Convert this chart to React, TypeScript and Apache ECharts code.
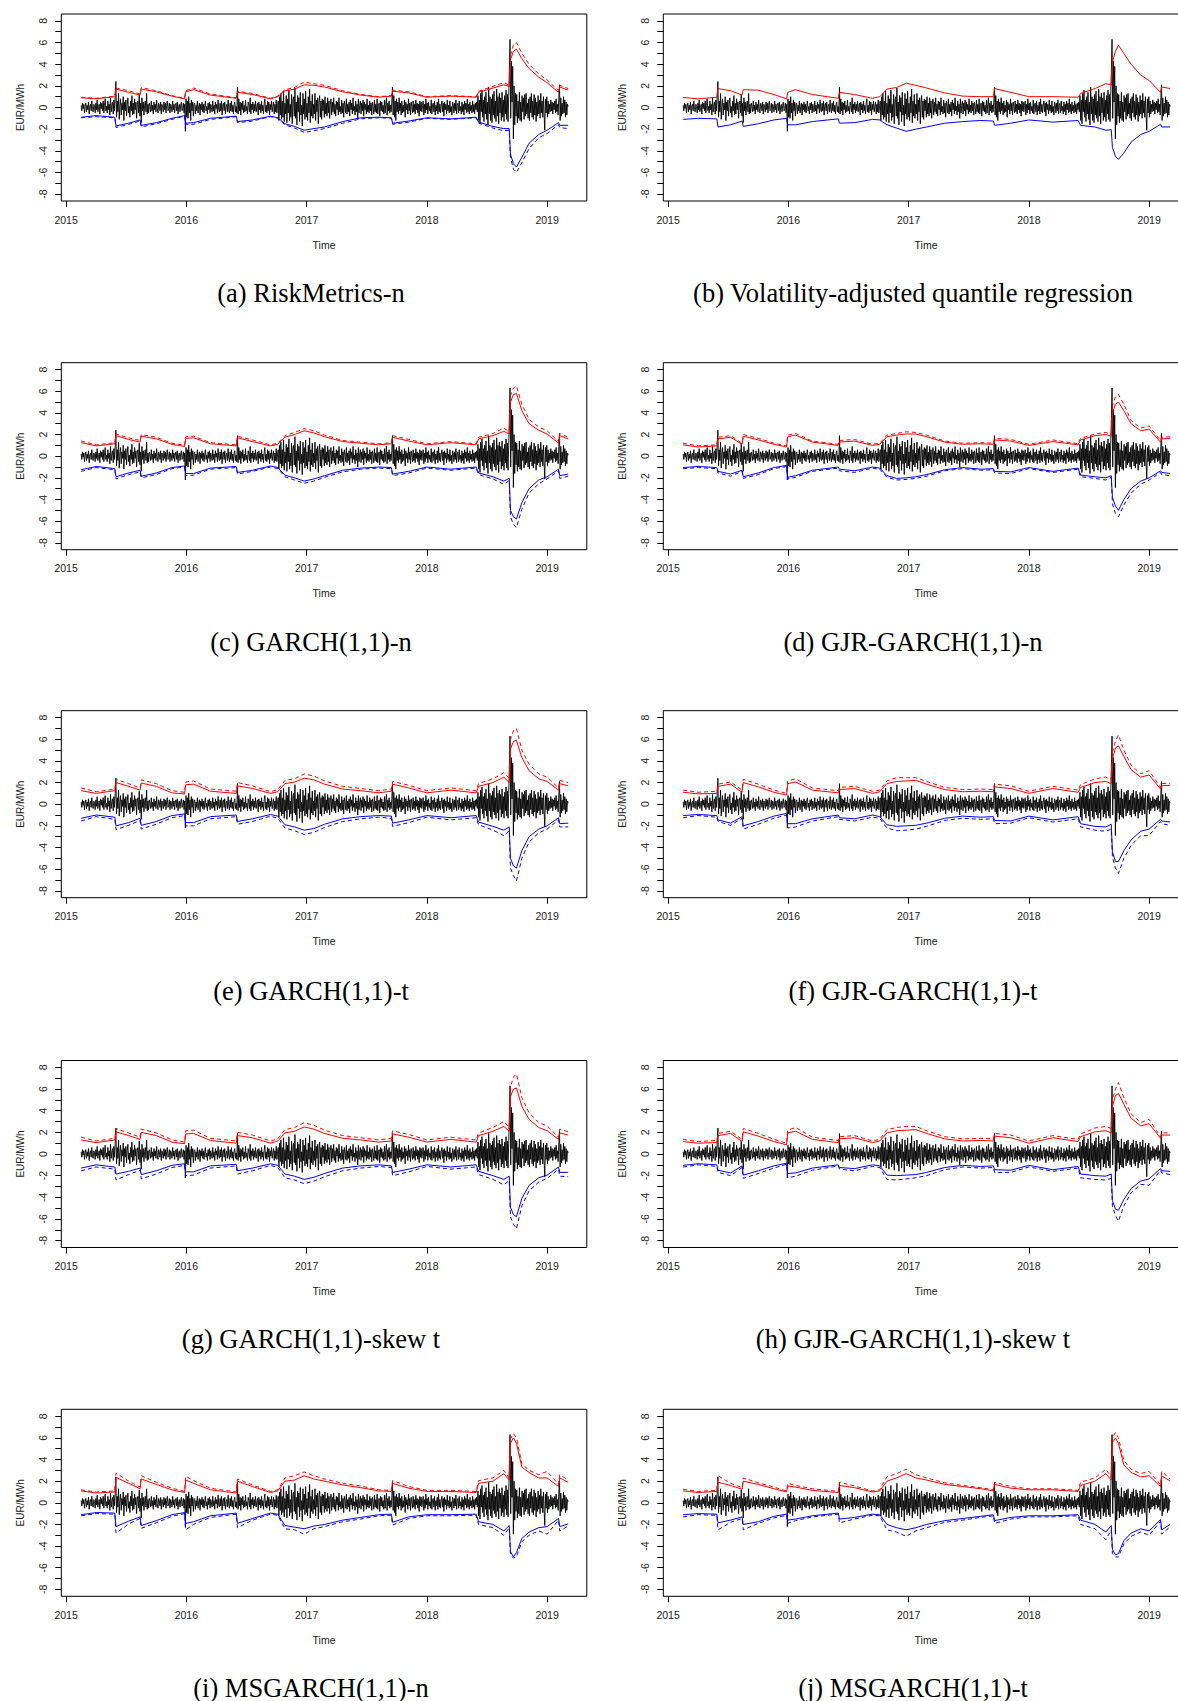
import React, { useEffect, useRef } from "react";
import * as echarts from "echarts";

// ---- series (EUR/MWh), first observation at T0, one point every DT years ----
const T0 = 2015.125;
const DT = 1 / 180;
const RETURNS = [
  0.2, -0.3, 0.4, -0.1, 0.3, -0.5, 0.1, 0.4, -0.4, 0.2,
  -0.2, 0.5, -0.6, 0.1, 0.3, -0.3, 0.6, -0.2, -0.4, 0.3,
  0.1, -0.5, 0.4, -0.2, 0.7, -0.4, 0.0, 0.3, -0.6, 0.5,
  -0.1, 0.4, -0.3, 0.6, -0.5, 0.2, 0.8, -0.3, 0.1, -0.5,
  0.6, -0.2, 0.3, -0.7, 0.9, -0.4, 0.2, 0.5, -0.6, 0.7,
  -0.3, 1.0, 2.4, -0.9, 0.6, -0.4, 1.3, -1.1, 0.2, 0.8,
  -0.7, 0.4, -0.2, 1.0, -1.2, 0.5, -0.3, 0.7, -0.8, 0.3,
  0.9, -0.5, 0.1, -0.9, 0.6, -0.3, 1.1, -0.7, 0.4, -0.6,
  0.8, -0.2, 0.5, -1.0, 0.3, 0.6, -0.5, 1.2, -0.8, 0.4,
  -1.4, 0.9, -0.3, 0.5, -0.7, 0.2, 0.6, -0.4, 1.3, -0.6,
  0.3, -0.5, 0.4, 0.1, -0.4, 0.6, -0.3, 0.2, -0.6, 0.5,
  -0.2, 0.3, -0.4, 0.7, -0.1, -0.5, 0.4, 0.2, -0.3, 0.5,
  -0.6, 0.3, 0.0, -0.4, 0.5, -0.2, 0.4, -0.5, 0.2, 0.6,
  -0.3, -0.1, 0.4, -0.5, 0.3, 0.1, -0.4, 0.6, -0.2, 0.3,
  -0.5, 0.2, 0.4, -0.3, 0.5, -0.6, 0.1, 0.3, -0.4, 0.2,
  0.5, -0.3, -0.1, 0.4, -0.5, 0.3, -2.2, 0.8, -0.9, 0.6,
  -1.0, 1.0, -0.5, 0.4, -1.2, 0.7, -0.3, 0.5, -0.8, 0.3,
  0.4, -0.6, 0.2, -0.3, 0.6, -0.5, 0.1, 0.4, -0.7, 0.3,
  -0.2, 0.5, -0.4, 0.3, -0.5, 0.2, 0.6, -0.3, 0.1, -0.6,
  0.4, -0.2, 0.5, -0.5, 0.3, 0.0, -0.4, 0.6, -0.3, 0.2,
  -0.6, 0.5, -0.1, 0.3, -0.5, 0.7, -0.2, -0.4, 0.4, -0.3,
  0.6, -0.7, 0.2, 0.4, -0.3, 0.5, -0.6, 0.1, 0.3, -0.4,
  0.7, -0.2, -0.5, 0.4, -0.3, 0.6, -0.4, 0.2, -0.6, 0.3,
  0.5, -0.4, 0.1, -0.5, 1.9, -0.6, 0.8, -0.3, 0.5, -0.7,
  0.4, -0.2, 0.6, -0.5, 0.2, -0.4, 0.7, -0.3, 0.1, -0.6,
  0.5, 0.2, -0.4, 0.9, -0.6, 0.3, -0.2, 0.5, -0.5, 0.3,
  -0.3, 0.6, -0.4, 0.1, 0.4, -0.7, 0.5, -0.2, 0.3, -0.5,
  0.6, -0.3, 0.2, -0.6, 0.4, 0.8, -0.4, 0.2, -0.5, 0.6,
  -0.3, 0.5, -0.7, 0.3, -0.2, 0.6, -0.4, 0.1, 0.5, -0.6,
  0.3, -0.4, 0.7, -0.5, 0.2, 0.6, -1.2, 1.0, -0.7, 1.3,
  -1.1, 0.6, -0.9, 1.5, -1.3, 0.4, -0.6, 1.1, -1.4, 0.8,
  -0.5, 1.6, -1.2, 0.3, -0.9, 1.2, -1.5, 0.7, 1.0, -0.8,
  1.8, -1.0, 0.5, -1.6, 1.1, -0.4, 0.9, -1.3, 1.4, -0.7,
  0.2, -1.7, 1.3, -0.6, 0.8, -1.1, 1.5, -0.9, 0.4, -1.2,
  1.0, -0.5, 1.7, -1.4, 0.6, -0.8, 1.2, -1.0, 0.3, -0.6,
  1.3, -1.2, 0.7, -0.4, 0.9, -1.5, 0.5, 1.1, -0.9, 0.6,
  -1.1, 0.8, -0.3, 0.7, -0.9, 1.0, -0.6, 0.4, -0.8, 0.9,
  -0.5, 0.6, -1.0, 0.3, 0.8, -0.7, 0.5, -0.4, 0.9, -0.6,
  0.3, -0.8, 0.6, -0.2, 0.5, -0.7, 0.9, -0.4, 0.1, -0.6,
  0.7, -0.5, 0.4, -0.9, 0.6, 0.2, -0.5, 0.8, -0.6, 0.3,
  -0.4, 0.5, -0.8, 0.7, -0.2, 0.4, -0.6, 0.9, -0.3, 0.1,
  -0.7, 0.6, -0.4, 0.3, -1.0, 0.8, -0.5, 0.2, 0.6, -0.6,
  0.4, -0.3, 0.7, -0.8, 0.5, -0.2, 0.3, -0.6, 0.8, -0.4,
  0.2, -0.5, 0.6, -0.3, 0.4, -0.7, 0.5, 0.1, -0.6, 0.7,
  -0.4, 0.3, -0.5, 0.8, -0.6, 0.2, 0.4, -0.8, 0.6, -0.3,
  0.5, -0.4, 0.2, -0.6, 0.7, -0.5, 0.3, 0.9, -0.7, 0.4,
  -0.3, 0.6, -0.5, 0.2, -0.4, 0.5, 1.9, -0.7, 1.1, -0.9,
  0.6, -1.2, 0.8, -0.4, 0.5, -0.6, 0.9, -0.3, 0.4, -0.7,
  0.6, -0.5, 0.2, -0.4, 0.7, -0.9, 0.5, -0.2, 0.3, -0.6,
  0.8, -0.3, 0.4, -0.7, 0.5, 0.1, -0.5, 0.6, -0.4, 0.3,
  -0.6, 0.7, -0.2, 0.4, -0.5, 0.3, -0.8, 0.6, -0.3, 0.5,
  -0.4, 0.2, 0.6, -0.7, 0.3, -0.5, 0.8, -0.2, 0.4, -0.6,
  0.5, -0.3, 0.1, -0.5, 0.7, -0.6, 0.3, 0.4, -0.4, 0.6,
  -0.7, 0.2, -0.3, 0.5, -0.6, 0.8, -0.4, 0.3, -0.5, 0.2,
  0.6, -0.4, 0.4, -0.8, 0.5, -0.2, 0.3, -0.6, 0.7, -0.3,
  0.2, -0.5, 0.6, -0.4, 0.1, -0.7, 0.5, 0.3, -0.5, 0.4,
  -0.3, 0.7, -0.6, 0.2, 0.4, -0.5, 0.6, -0.3, 0.1, -0.6,
  0.5, -0.4, 0.3, -0.7, 0.6, -0.2, 0.4, -0.5, 0.8, -0.4,
  0.3, -0.6, 0.5, -0.3, 0.2, -0.5, 0.6, -0.4, 0.3, -0.6,
  0.4, -0.2, 0.5, -0.4, 1.1, -1.2, 0.7, -1.5, 1.3, -0.4,
  1.6, -0.9, 0.7, -1.3, 1.0, -0.6, 1.4, -1.1, 0.5, -1.6,
  1.9, -0.6, 1.0, -1.2, 0.8, -1.4, 1.2, -0.7, 1.5, -1.0,
  0.6, -1.3, 1.7, -0.8, 1.0, -1.5, 1.3, -0.5, 0.9, -1.2,
  1.4, -0.9, 0.7, -1.3, 1.1, -0.6, 1.6, -1.1, 1.2, -1.3,
  1.0, 3.4, 6.3, -1.0, 4.3, 0.5, 3.8, -2.9, 2.0, -1.6,
  1.3, -0.8, 1.2, -1.4, 0.6, -1.0, 1.4, -1.2, 0.5, -1.3,
  1.1, -0.4, 0.9, -1.1, 1.2, -0.8, 1.3, -0.6, 0.4, -1.0,
  0.8, -1.2, 1.0, -0.5, 1.3, -0.9, 0.6, -1.1, 1.2, -0.7,
  0.9, -1.3, 0.5, -0.8, 1.1, -0.6, 0.7, -1.0, 1.3, -0.5,
  0.6, -0.9, 1.0, -0.7, -2.1, 0.8, -0.5, 1.0, -0.9, 0.6,
  -0.6, 0.3, -0.4, 0.7, -0.3, 0.5, -0.6, 0.4, -0.2, 0.6,
  -0.5, 0.8, -0.4, 0.3, -0.7, 0.9, 2.1, -1.2, 0.9, -0.8,
  0.4, -0.6, 1.0, -0.5, 0.7, -0.9, 0.5, -0.7, 0.3, 0.1,
];

// ---- times at which the VaR bands were read ----
const KNOTS = [
  2015.125, 2015.25, 2015.405, 2015.415, 2015.52, 2015.615, 2015.625, 2015.75, 2015.88, 2015.985,
  2015.995, 2016.06, 2016.2, 2016.415, 2016.425, 2016.55, 2016.7, 2016.76, 2016.82, 2016.9,
  2016.98, 2017.06, 2017.15, 2017.3, 2017.45, 2017.6, 2017.705, 2017.715, 2017.85, 2018.0,
  2018.2, 2018.41, 2018.43, 2018.55, 2018.64, 2018.685, 2018.695, 2018.72, 2018.745, 2018.79,
  2018.85, 2018.93, 2019.0, 2019.095, 2019.105, 2019.175,
];

// (a) RiskMetrics-n
const UP_A = [0.9, 0.8, 1.0, 1.7, 1.4, 1.15, 1.7, 1.45, 1.05, 0.8, 1.45, 1.65, 1.15, 0.85, 1.4, 1.2, 0.8, 1.0, 1.55, 1.7, 2.1, 2.05, 1.9, 1.45, 1.15, 0.95, 1.05, 1.5, 1.35, 0.95, 1.05, 0.95, 1.4, 1.8, 2.1, 1.95, 4.4, 5.2, 5.4, 4.5, 3.6, 2.8, 2.3, 1.4, 1.9, 1.6];
const UP2_A = [0.95, 0.85, 1.05, 1.8, 1.55, 1.25, 1.85, 1.55, 1.1, 0.85, 1.55, 1.8, 1.25, 0.9, 1.5, 1.3, 0.85, 1.05, 1.65, 1.85, 2.35, 2.2, 2.05, 1.55, 1.2, 1.0, 1.1, 1.6, 1.45, 1.0, 1.1, 1.0, 1.5, 1.95, 2.3, 2.05, 4.8, 5.8, 6.0, 5.0, 4.0, 3.1, 2.55, 1.55, 2.05, 1.75];
const LO_A = [-0.9, -0.75, -0.9, -1.7, -1.45, -1.15, -1.65, -1.4, -1.0, -0.75, -1.45, -1.4, -1.0, -0.8, -1.3, -1.15, -0.8, -0.95, -1.5, -1.75, -2.1, -1.95, -1.8, -1.3, -0.95, -0.9, -0.95, -1.45, -1.25, -0.95, -1.05, -0.9, -1.35, -1.75, -1.95, -1.95, -4.3, -5.2, -5.5, -4.6, -3.3, -2.5, -2.1, -1.4, -1.65, -1.65];
const LO2_A = [-0.95, -0.85, -0.95, -1.85, -1.55, -1.25, -1.8, -1.5, -1.1, -0.8, -1.55, -1.55, -1.1, -0.85, -1.4, -1.25, -0.85, -1.0, -1.6, -1.9, -2.3, -2.15, -1.95, -1.45, -1.05, -0.95, -1.0, -1.55, -1.35, -1.0, -1.1, -0.95, -1.45, -1.9, -2.15, -2.1, -4.6, -5.7, -6.0, -5.1, -3.8, -2.8, -2.4, -1.6, -1.85, -1.95];
// (b) Volatility-adjusted quantile regression
const UP_B = [0.92, 0.8, 0.95, 1.75, 1.55, 1.15, 1.65, 1.6, 1.2, 0.8, 1.4, 1.65, 1.2, 0.85, 1.4, 1.2, 0.85, 1.0, 1.7, 1.85, 2.25, 2.05, 1.8, 1.35, 1.05, 1.0, 1.0, 1.75, 1.4, 1.0, 1.0, 0.95, 1.3, 1.75, 2.2, 2.1, 4.2, 5.2, 5.75, 5.0, 4.0, 3.0, 2.5, 1.4, 1.9, 1.75];
const LO_B = [-1.1, -1.0, -1.05, -1.8, -1.6, -1.25, -1.75, -1.5, -1.15, -1.0, -1.6, -1.6, -1.3, -1.05, -1.45, -1.4, -1.1, -1.15, -1.6, -1.9, -2.2, -2.0, -1.8, -1.45, -1.3, -1.2, -1.25, -1.65, -1.45, -1.15, -1.35, -1.2, -1.65, -1.8, -2.1, -2.05, -3.7, -4.5, -4.8, -4.2, -3.2, -2.5, -2.2, -1.55, -1.8, -1.8];
// (c) GARCH(1,1)-n
const UP_C = [1.25, 0.95, 1.15, 1.9, 1.55, 1.3, 1.85, 1.6, 1.1, 0.9, 1.65, 1.7, 1.15, 0.95, 1.7, 1.35, 0.95, 1.1, 1.75, 2.0, 2.35, 2.15, 1.8, 1.35, 1.2, 1.05, 1.15, 1.75, 1.4, 1.05, 1.25, 1.05, 1.6, 1.9, 2.3, 2.05, 5.0, 5.7, 5.8, 4.2, 3.0, 2.4, 2.05, 1.2, 1.9, 1.6];
const UP2_C = [1.4, 1.05, 1.25, 2.05, 1.7, 1.45, 2.0, 1.75, 1.2, 1.0, 1.8, 1.85, 1.25, 1.05, 1.85, 1.5, 1.05, 1.2, 1.9, 2.2, 2.55, 2.35, 1.95, 1.45, 1.3, 1.15, 1.25, 1.9, 1.55, 1.15, 1.35, 1.15, 1.75, 2.1, 2.6, 2.25, 5.6, 6.3, 6.5, 4.8, 3.4, 2.7, 2.35, 1.35, 2.1, 1.75];
const LO_C = [-1.25, -0.95, -1.15, -1.9, -1.55, -1.3, -1.85, -1.55, -1.05, -0.9, -1.6, -1.6, -1.1, -0.95, -1.5, -1.3, -0.9, -1.05, -1.75, -2.0, -2.3, -2.1, -1.8, -1.3, -1.1, -1.0, -1.05, -1.65, -1.4, -1.0, -1.2, -1.0, -1.55, -1.9, -2.3, -2.05, -5.0, -5.6, -5.8, -4.3, -3.0, -2.2, -1.9, -1.2, -1.8, -1.65];
const LO2_C = [-1.4, -1.05, -1.25, -2.1, -1.7, -1.45, -2.0, -1.7, -1.15, -1.0, -1.8, -1.75, -1.2, -1.05, -1.65, -1.4, -1.0, -1.15, -1.9, -2.2, -2.5, -2.3, -1.95, -1.45, -1.2, -1.1, -1.15, -1.8, -1.55, -1.1, -1.3, -1.1, -1.7, -2.1, -2.6, -2.25, -5.6, -6.3, -6.6, -4.9, -3.4, -2.55, -2.1, -1.35, -2.05, -1.85];
// (d) GJR-GARCH(1,1)-n
const UP_D = [1.05, 0.85, 0.95, 1.6, 1.75, 1.1, 1.85, 1.5, 1.1, 0.85, 1.8, 1.95, 1.3, 1.0, 1.3, 1.4, 1.0, 1.1, 1.8, 1.95, 2.05, 2.05, 1.8, 1.3, 1.1, 1.15, 1.1, 1.5, 1.4, 1.0, 1.35, 1.05, 1.5, 1.9, 2.0, 1.85, 4.0, 4.8, 5.0, 4.2, 3.0, 2.35, 2.5, 1.3, 1.6, 1.65];
const UP2_D = [1.2, 0.95, 1.05, 1.75, 1.9, 1.2, 2.0, 1.65, 1.2, 0.95, 1.95, 2.1, 1.4, 1.1, 1.45, 1.55, 1.1, 1.2, 1.95, 2.1, 2.25, 2.2, 1.95, 1.4, 1.2, 1.25, 1.2, 1.65, 1.55, 1.1, 1.5, 1.15, 1.65, 2.05, 2.2, 2.0, 4.6, 5.5, 5.7, 4.8, 3.3, 2.6, 2.8, 1.45, 1.75, 1.8];
const LO_D = [-1.05, -0.95, -1.05, -1.4, -1.65, -1.3, -1.9, -1.55, -1.05, -0.85, -1.95, -1.8, -1.3, -1.0, -1.2, -1.35, -1.0, -1.1, -1.8, -2.05, -2.0, -1.9, -1.7, -1.25, -1.05, -1.2, -1.15, -1.4, -1.45, -1.05, -1.4, -1.1, -1.75, -1.9, -2.0, -1.8, -3.8, -4.6, -5.0, -4.0, -3.0, -2.3, -2.0, -1.35, -1.5, -1.6];
const LO2_D = [-1.15, -1.05, -1.15, -1.55, -1.85, -1.4, -2.05, -1.7, -1.15, -0.95, -2.1, -1.95, -1.4, -1.1, -1.35, -1.5, -1.1, -1.2, -1.95, -2.2, -2.15, -2.05, -1.85, -1.35, -1.15, -1.3, -1.25, -1.55, -1.6, -1.15, -1.5, -1.2, -1.9, -2.05, -2.2, -1.95, -4.4, -5.3, -5.6, -4.5, -3.4, -2.6, -2.2, -1.5, -1.7, -1.8];
// (e) GARCH(1,1)-t
const UP_E = [1.25, 1.0, 1.25, 2.0, 1.65, 1.3, 1.95, 1.65, 1.05, 0.95, 1.8, 1.85, 1.2, 1.0, 1.7, 1.45, 1.0, 1.15, 1.9, 2.05, 2.4, 2.25, 1.85, 1.4, 1.25, 1.05, 1.2, 1.85, 1.5, 1.05, 1.3, 1.05, 1.65, 2.0, 2.5, 2.0, 5.1, 5.8, 5.9, 4.3, 3.1, 2.35, 2.1, 1.3, 1.9, 1.7];
const UP2_E = [1.5, 1.15, 1.4, 2.3, 1.9, 1.5, 2.25, 1.9, 1.25, 1.1, 2.05, 2.15, 1.4, 1.2, 2.0, 1.7, 1.15, 1.35, 2.2, 2.35, 2.8, 2.6, 2.15, 1.65, 1.45, 1.25, 1.4, 2.1, 1.75, 1.25, 1.5, 1.25, 1.9, 2.35, 2.9, 2.4, 6.0, 6.8, 7.0, 5.0, 3.7, 2.8, 2.5, 1.5, 2.2, 2.0];
const LO_E = [-1.3, -1.0, -1.2, -2.0, -1.7, -1.3, -1.95, -1.6, -1.05, -0.9, -1.7, -1.7, -1.15, -1.0, -1.6, -1.35, -0.95, -1.1, -1.9, -2.1, -2.4, -2.25, -1.85, -1.35, -1.15, -1.05, -1.1, -1.75, -1.45, -1.05, -1.25, -1.05, -1.65, -2.05, -2.4, -2.1, -5.0, -5.7, -5.9, -4.3, -3.0, -2.3, -2.0, -1.25, -1.8, -1.75];
const LO2_E = [-1.55, -1.15, -1.4, -2.35, -1.95, -1.5, -2.3, -1.85, -1.25, -1.05, -2.0, -2.0, -1.35, -1.15, -1.85, -1.6, -1.1, -1.3, -2.2, -2.45, -2.8, -2.6, -2.15, -1.6, -1.35, -1.2, -1.3, -2.05, -1.7, -1.2, -1.45, -1.25, -1.9, -2.4, -2.9, -2.45, -5.9, -6.6, -7.1, -5.0, -3.5, -2.65, -2.3, -1.45, -2.1, -2.1];
// (f) GJR-GARCH(1,1)-t
const UP_F = [1.1, 0.95, 1.0, 1.65, 1.85, 1.1, 2.0, 1.6, 1.1, 0.85, 1.9, 2.05, 1.3, 1.05, 1.35, 1.45, 1.0, 1.15, 1.9, 2.1, 2.15, 2.2, 1.85, 1.35, 1.15, 1.2, 1.15, 1.6, 1.45, 1.0, 1.45, 1.1, 1.55, 2.0, 2.1, 1.9, 4.2, 5.2, 5.4, 4.4, 3.2, 2.5, 2.7, 1.4, 1.7, 1.75];
const UP2_F = [1.3, 1.1, 1.2, 1.85, 2.05, 1.3, 2.3, 1.85, 1.3, 1.0, 2.15, 2.35, 1.5, 1.25, 1.55, 1.65, 1.2, 1.3, 2.15, 2.45, 2.45, 2.45, 2.1, 1.55, 1.35, 1.4, 1.35, 1.85, 1.7, 1.2, 1.65, 1.3, 1.8, 2.35, 2.5, 2.3, 4.8, 5.8, 6.4, 5.0, 3.6, 2.8, 3.1, 1.55, 1.9, 1.95];
const LO_F = [-1.05, -0.95, -1.05, -1.45, -1.75, -1.15, -2.0, -1.6, -1.1, -0.85, -1.8, -1.8, -1.35, -1.0, -1.25, -1.35, -1.0, -1.15, -1.9, -2.05, -2.0, -1.95, -1.75, -1.3, -1.1, -1.2, -1.15, -1.5, -1.55, -1.1, -1.45, -1.15, -1.8, -2.05, -2.1, -1.85, -4.4, -5.3, -5.3, -4.3, -3.3, -2.5, -2.3, -1.4, -1.55, -1.65];
const LO2_F = [-1.25, -1.05, -1.2, -1.6, -1.95, -1.3, -2.3, -1.85, -1.3, -1.0, -2.2, -2.1, -1.55, -1.15, -1.4, -1.55, -1.2, -1.3, -2.2, -2.45, -2.4, -2.3, -2.05, -1.5, -1.3, -1.4, -1.35, -1.8, -1.75, -1.25, -1.65, -1.35, -2.1, -2.4, -2.5, -2.3, -4.9, -5.9, -6.4, -5.0, -3.8, -2.9, -2.9, -1.6, -1.8, -1.95];
// (g) GARCH(1,1)-skew t
const UP_G = [1.3, 1.05, 1.3, 2.05, 1.7, 1.35, 2.0, 1.7, 1.1, 0.95, 1.85, 1.9, 1.25, 1.0, 1.7, 1.5, 1.0, 1.2, 1.95, 2.1, 2.5, 2.3, 1.9, 1.45, 1.3, 1.1, 1.2, 1.85, 1.55, 1.1, 1.35, 1.1, 1.7, 2.1, 2.55, 2.1, 5.3, 6.0, 6.1, 4.4, 3.2, 2.45, 2.15, 1.35, 1.95, 1.75];
const UP2_G = [1.55, 1.2, 1.45, 2.35, 1.95, 1.55, 2.3, 1.95, 1.3, 1.1, 2.15, 2.2, 1.45, 1.2, 2.0, 1.75, 1.2, 1.4, 2.25, 2.45, 2.9, 2.65, 2.2, 1.7, 1.5, 1.3, 1.45, 2.15, 1.8, 1.3, 1.55, 1.3, 1.95, 2.45, 3.0, 2.45, 6.2, 7.1, 7.4, 5.2, 3.8, 2.9, 2.6, 1.55, 2.3, 2.05];
const LO_G = [-1.3, -1.0, -1.2, -1.85, -1.6, -1.3, -1.9, -1.55, -1.05, -0.9, -1.65, -1.65, -1.1, -0.95, -1.55, -1.3, -0.9, -1.05, -1.85, -2.05, -2.35, -2.15, -1.8, -1.3, -1.1, -1.0, -1.1, -1.7, -1.4, -1.0, -1.2, -1.0, -1.6, -2.0, -2.35, -2.05, -4.9, -5.6, -5.8, -4.1, -2.9, -2.2, -1.95, -1.2, -1.7, -1.7];
const LO2_G = [-1.55, -1.2, -1.4, -2.4, -1.9, -1.5, -2.3, -1.85, -1.25, -1.05, -2.0, -1.95, -1.3, -1.1, -1.85, -1.55, -1.05, -1.25, -2.2, -2.4, -2.75, -2.5, -2.1, -1.55, -1.3, -1.15, -1.25, -2.0, -1.65, -1.15, -1.4, -1.2, -1.9, -2.35, -2.85, -2.45, -5.8, -6.5, -6.9, -4.8, -3.4, -2.6, -2.25, -1.4, -2.05, -2.1];
// (h) GJR-GARCH(1,1)-skew t
const UP_H = [1.15, 1.0, 1.05, 1.7, 1.9, 1.15, 2.05, 1.65, 1.15, 0.85, 1.95, 2.1, 1.35, 1.05, 1.4, 1.5, 1.05, 1.2, 1.95, 2.15, 2.2, 2.25, 1.9, 1.4, 1.2, 1.25, 1.2, 1.65, 1.5, 1.0, 1.5, 1.15, 1.6, 2.05, 2.15, 1.95, 4.4, 5.4, 5.6, 4.6, 3.3, 2.6, 2.8, 1.45, 1.75, 1.75];
const UP2_H = [1.35, 1.15, 1.25, 1.9, 2.1, 1.35, 2.35, 1.9, 1.35, 1.0, 2.2, 2.45, 1.55, 1.25, 1.6, 1.7, 1.2, 1.35, 2.25, 2.45, 2.55, 2.55, 2.15, 1.6, 1.4, 1.45, 1.4, 1.9, 1.75, 1.2, 1.7, 1.35, 1.85, 2.4, 2.55, 2.35, 5.0, 6.0, 6.6, 5.2, 3.7, 2.9, 3.2, 1.6, 1.95, 1.95];
const LO_H = [-1.05, -0.9, -1.0, -1.5, -1.75, -1.1, -1.95, -1.55, -1.1, -0.85, -1.8, -1.75, -1.3, -1.0, -1.25, -1.35, -1.0, -1.1, -1.95, -2.0, -1.95, -1.9, -1.7, -1.25, -1.05, -1.15, -1.1, -1.45, -1.5, -1.05, -1.45, -1.15, -1.85, -2.0, -2.05, -1.85, -4.3, -5.1, -5.2, -4.2, -3.2, -2.5, -2.3, -1.35, -1.55, -1.6];
const LO2_H = [-1.2, -1.0, -1.15, -1.7, -2.0, -1.25, -2.25, -1.8, -1.3, -0.95, -2.2, -2.05, -1.5, -1.1, -1.4, -1.55, -1.15, -1.25, -2.35, -2.4, -2.3, -2.2, -2.0, -1.45, -1.2, -1.3, -1.25, -1.7, -1.7, -1.2, -1.6, -1.3, -2.2, -2.35, -2.4, -2.25, -4.8, -5.7, -6.2, -4.8, -3.6, -2.8, -2.9, -1.5, -1.75, -1.9];
// (i) MSGARCH(1,1)-n
const UP_I = [1.1, 0.9, 1.0, 2.35, 1.8, 1.3, 2.2, 1.7, 1.2, 0.95, 2.1, 1.8, 1.2, 0.9, 2.0, 1.5, 0.95, 1.1, 2.0, 2.1, 2.5, 2.2, 2.0, 1.65, 1.4, 1.1, 1.05, 1.8, 1.35, 1.05, 1.05, 0.95, 1.8, 2.0, 2.7, 2.1, 5.5, 6.0, 5.5, 3.3, 2.8, 2.3, 2.3, 1.5, 2.3, 1.9];
const UP2_I = [1.2, 1.0, 1.1, 2.75, 2.0, 1.45, 2.5, 1.9, 1.35, 1.05, 2.45, 2.05, 1.35, 1.0, 2.2, 1.65, 1.05, 1.2, 2.3, 2.5, 2.85, 2.5, 2.2, 1.8, 1.55, 1.2, 1.15, 2.05, 1.5, 1.15, 1.15, 1.05, 2.05, 2.3, 3.0, 2.3, 5.9, 6.4, 6.0, 3.6, 3.0, 2.6, 2.9, 1.7, 2.6, 2.1];
const LO_I = [-1.1, -0.9, -0.95, -2.2, -1.7, -1.3, -2.1, -1.65, -1.1, -0.9, -1.9, -1.75, -1.2, -0.95, -1.9, -1.45, -0.95, -1.05, -2.1, -2.25, -2.4, -2.15, -2.0, -1.6, -1.35, -1.1, -1.05, -1.8, -1.3, -1.1, -1.1, -1.05, -1.75, -2.0, -2.6, -2.1, -4.5, -5.0, -4.6, -3.3, -2.7, -2.3, -2.2, -1.45, -2.2, -1.95];
const LO2_I = [-1.2, -1.0, -1.05, -2.8, -1.95, -1.45, -2.35, -1.85, -1.25, -1.0, -2.5, -2.0, -1.35, -1.05, -2.3, -1.6, -1.05, -1.15, -2.4, -2.5, -2.9, -2.4, -2.2, -1.75, -1.5, -1.2, -1.15, -2.05, -1.45, -1.2, -1.2, -1.15, -2.0, -2.3, -3.0, -2.3, -4.8, -5.1, -5.0, -3.6, -3.0, -2.6, -2.9, -1.6, -2.6, -2.15];
// (j) MSGARCH(1,1)-t
const UP_J = [1.1, 0.95, 1.05, 1.9, 1.6, 1.25, 2.0, 1.7, 1.3, 1.0, 1.55, 1.45, 1.15, 0.95, 1.6, 1.4, 1.0, 1.1, 2.0, 2.3, 2.7, 2.3, 2.1, 1.7, 1.5, 1.3, 1.1, 1.7, 1.35, 1.2, 1.2, 1.05, 1.6, 2.0, 2.7, 2.1, 5.6, 6.0, 5.5, 3.5, 2.8, 2.4, 2.5, 1.5, 2.5, 2.0];
const UP2_J = [1.25, 1.05, 1.15, 2.5, 1.8, 1.4, 2.3, 1.85, 1.45, 1.1, 1.8, 1.6, 1.3, 1.05, 1.9, 1.55, 1.1, 1.2, 2.4, 2.7, 3.1, 2.6, 2.3, 1.85, 1.6, 1.4, 1.2, 1.9, 1.5, 1.3, 1.3, 1.15, 1.9, 2.3, 3.1, 2.4, 6.0, 6.5, 6.0, 3.9, 3.1, 2.7, 2.9, 1.65, 2.9, 2.2];
const LO_J = [-1.1, -1.0, -1.05, -1.85, -1.6, -1.3, -2.0, -1.75, -1.25, -1.05, -1.6, -1.5, -1.2, -0.95, -1.5, -1.35, -1.05, -1.1, -2.0, -2.3, -2.5, -2.3, -2.0, -1.65, -1.45, -1.25, -1.1, -1.65, -1.35, -1.2, -1.2, -1.1, -1.6, -2.0, -2.7, -2.1, -4.3, -4.8, -4.7, -3.5, -2.8, -2.4, -2.6, -1.55, -2.5, -2.0];
const LO2_J = [-1.3, -1.1, -1.15, -2.5, -1.8, -1.45, -2.5, -1.9, -1.4, -1.15, -1.9, -1.65, -1.3, -1.05, -1.85, -1.5, -1.15, -1.2, -2.5, -2.7, -3.1, -2.6, -2.3, -1.8, -1.6, -1.35, -1.2, -1.9, -1.5, -1.3, -1.3, -1.2, -2.0, -2.4, -3.4, -2.5, -4.7, -5.0, -5.0, -3.8, -3.1, -2.7, -3.0, -1.7, -2.9, -2.2];

const CAPTIONS = [
  "(a) RiskMetrics-n",
  "(b) Volatility-adjusted quantile regression",
  "(c) GARCH(1,1)-n",
  "(d) GJR-GARCH(1,1)-n",
  "(e) GARCH(1,1)-t",
  "(f) GJR-GARCH(1,1)-t",
  "(g) GARCH(1,1)-skew t",
  "(h) GJR-GARCH(1,1)-skew t",
  "(i) MSGARCH(1,1)-n",
  "(j) MSGARCH(1,1)-t",
];
const UPPER = [UP_A, UP_B, UP_C, UP_D, UP_E, UP_F, UP_G, UP_H, UP_I, UP_J];
const UPPER2 = [UP2_A, null, UP2_C, UP2_D, UP2_E, UP2_F, UP2_G, UP2_H, UP2_I, UP2_J];
const LOWER = [LO_A, LO_B, LO_C, LO_D, LO_E, LO_F, LO_G, LO_H, LO_I, LO_J];
const LOWER2 = [LO2_A, null, LO2_C, LO2_D, LO2_E, LO2_F, LO2_G, LO2_H, LO2_I, LO2_J];

// axis ranges (R pads the data range by 4%)
const X_MIN = 2014.96;
const X_MAX = 2019.33;
const X_TICK_MIN = 2015;
const X_TICK_MAX = 2019;
const Y_MIN = -8.64;
const Y_MAX = 8.64;
const Y_TICK_MIN = -8;
const Y_TICK_MAX = 8;

// ---- layout ----
const W = 1178;
const H = 1701;
const GRID_LEFT = [61.3, 663.3];
const GRID_W = 525.5;
const GRID_H = 187;
const ROW_TOP = [14, 362.7, 710.7, 1060.5, 1409.3];
const CAP_X = [311, 913];
const CAP_Y0 = 293;
const ROW_STEP = 348.75;
const SANS = '"Liberation Sans", Arial, sans-serif';
const SERIF = '"Liberation Serif", "Times New Roman", serif';

function buildOption() {
  const grid: any[] = [];
  const xAxis: any[] = [];
  const yAxis: any[] = [];
  const series: any[] = [];
  const graphic: any[] = [];
  const blackData = RETURNS.map((v, i) => [T0 + i * DT, v]);
  const band = (arr: number[]) => KNOTS.map((t, k) => [t, arr[k]]);

  const pxX = GRID_W / (X_MAX - X_MIN);
  const pxY = GRID_H / (Y_MAX - Y_MIN);
  const insetL = (X_TICK_MIN - X_MIN) * pxX;
  const insetB = (Y_TICK_MIN - Y_MIN) * pxY;
  const insetT = (Y_MAX - Y_TICK_MAX) * pxY;
  const innerW = (X_TICK_MAX - X_TICK_MIN) * pxX;
  const innerH = (Y_TICK_MAX - Y_TICK_MIN) * pxY;

  const textStyle = { fontSize: 10.5, fontFamily: SANS, color: "#222" };
  const hidden = {
    axisLine: { show: false, onZero: false },
    axisTick: { show: false },
    axisLabel: { show: false },
    splitLine: { show: false },
  };

  for (let p = 0; p < 10; p++) {
    const col = p % 2;
    const row = Math.floor(p / 2);
    const gData = 2 * p;
    const gAxis = 2 * p + 1;
    grid.push({
      left: GRID_LEFT[col],
      top: ROW_TOP[row],
      width: GRID_W,
      height: GRID_H,
      show: true,
      borderColor: "#000",
      borderWidth: 1,
      backgroundColor: "rgba(0,0,0,0)",
      containLabel: false,
      outerBoundsMode: "none",
    });
    grid.push({
      left: GRID_LEFT[col] + insetL,
      top: ROW_TOP[row] + insetT,
      width: innerW,
      height: innerH,
      show: false,
      containLabel: false,
      outerBoundsMode: "none",
    });

    xAxis.push({
      gridIndex: gData,
      type: "value",
      min: X_MIN,
      max: X_MAX,
      position: "bottom",
      ...hidden,
      name: "Time",
      nameLocation: "middle",
      nameGap: 38,
      nameTextStyle: textStyle,
    });
    yAxis.push({
      gridIndex: gData,
      type: "value",
      min: Y_MIN,
      max: Y_MAX,
      position: "left",
      ...hidden,
      name: "EUR/MWh",
      nameLocation: "middle",
      nameRotate: 90,
      nameGap: 35.5,
      nameTextStyle: { ...textStyle, fontSize: 10 },
    });
    xAxis.push({
      gridIndex: gAxis,
      type: "value",
      min: X_TICK_MIN,
      max: X_TICK_MAX,
      interval: 1,
      position: "bottom",
      offset: insetB,
      axisLine: { show: false, onZero: false },
      splitLine: { show: false },
      axisTick: { show: true, length: 6, lineStyle: { color: "#000", width: 1 } },
      axisLabel: { ...textStyle, margin: 13, formatter: (v: number) => String(v) },
    });
    yAxis.push({
      gridIndex: gAxis,
      type: "value",
      min: Y_TICK_MIN,
      max: Y_TICK_MAX,
      interval: 1,
      position: "left",
      offset: insetL,
      axisLine: { show: false, onZero: false },
      splitLine: { show: false },
      axisTick: { show: true, length: 6, lineStyle: { color: "#000", width: 1 } },
      axisLabel: {
        ...textStyle,
        rotate: 90,
        margin: 12.5,
        formatter: (v: number) => (Math.round(v) % 2 === 0 ? String(v) : ""),
      },
    });

    series.push({
      type: "line",
      xAxisIndex: gData,
      yAxisIndex: gData,
      data: blackData,
      symbol: "none",
      silent: true,
      lineStyle: { color: "#000", width: 0.9 },
      z: 2,
    });
    const bands: [number[] | null, string, boolean][] = [
      [UPPER[p], "#ff0000", false],
      [UPPER2[p], "#ff0000", true],
      [LOWER[p], "#0000ff", false],
      [LOWER2[p], "#0000ff", true],
    ];
    for (const [arr, color, dashed] of bands) {
      if (!arr) continue;
      series.push({
        type: "line",
        xAxisIndex: gData,
        yAxisIndex: gData,
        data: band(arr),
        symbol: "none",
        silent: true,
        lineStyle: { color, width: 1, type: dashed ? [4, 3] : "solid" },
        z: 3,
      });
    }

    graphic.push({
      type: "text",
      x: CAP_X[col],
      y: CAP_Y0 + row * ROW_STEP,
      style: {
        text: CAPTIONS[p],
        font: `26.5px ${SERIF}`,
        fill: "#000",
        align: "center",
        verticalAlign: "middle",
      },
    });
  }

  return {
    animation: false,
    backgroundColor: "#fff",
    grid,
    xAxis,
    yAxis,
    series,
    graphic,
  };
}

export default function App() {
  const ref = useRef<HTMLDivElement>(null);
  useEffect(() => {
    if (!ref.current) return;
    const chart = echarts.init(ref.current, undefined, { renderer: "svg", width: W, height: H });
    chart.setOption(buildOption() as any);
    return () => chart.dispose();
  }, []);
  return (
    <div
      ref={ref}
      style={{ position: "absolute", left: 0, top: 0, width: W, height: H, background: "#fff", overflow: "hidden" }}
    />
  );
}
